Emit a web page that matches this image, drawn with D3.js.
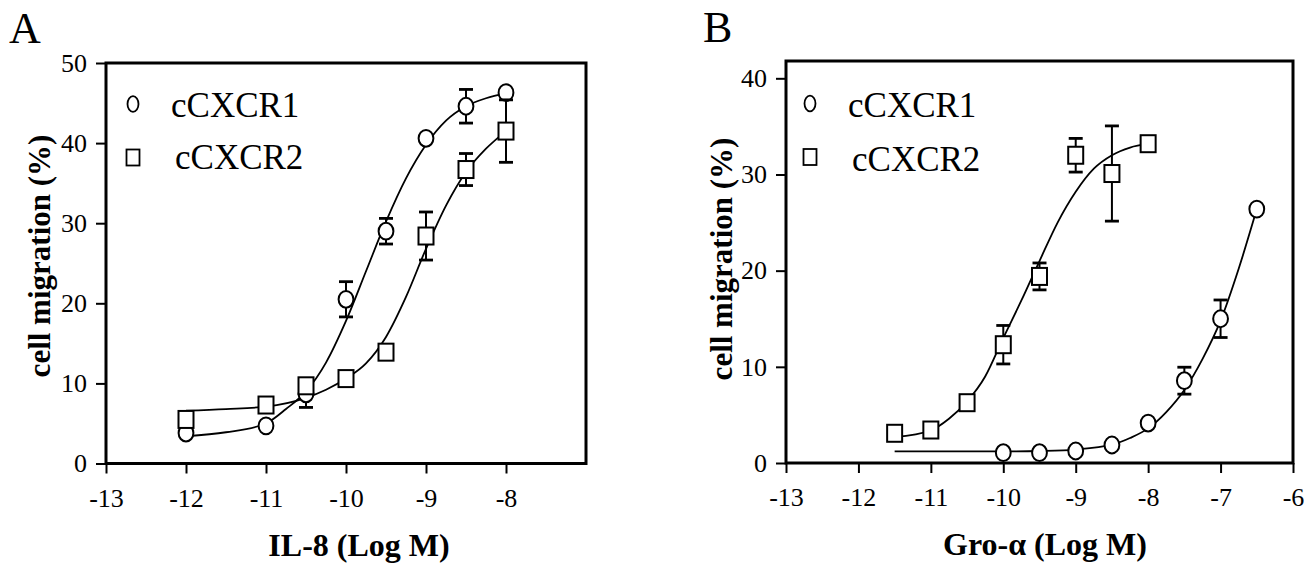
<!DOCTYPE html>
<html><head><meta charset="utf-8">
<script src="https://cdnjs.cloudflare.com/ajax/libs/d3/7.8.5/d3.min.js"></script>
<style>
html,body{margin:0;padding:0;background:#fff;}
svg{display:block;}
text{font-family:"Liberation Serif","Times New Roman",serif;fill:#000;}
</style></head>
<body>
<script>
// ---------- data ----------
const xTicksA = [-13,-12,-11,-10,-9,-8];
const yTicksA = [0,10,20,30,40,50];
const xTicksB = [-13,-12,-11,-10,-9,-8,-7,-6];
const yTicksB = [0,10,20,30,40];

const seriesNames = ["cCXCR1","cCXCR2"];

// Panel A: IL-8
const doseA = [-12,-11,-10.5,-10,-9.5,-9,-8.5,-8];
const A_c1 = [3.8,4.7,8.7,20.5,29.0,40.6,44.6,46.3];
const A_c1_err = [0,0,1.7,2.2,1.6,0,2.1,0];
const A_c2 = [5.5,7.3,9.7,10.6,13.9,28.4,36.7,41.5];
const A_c2_err = [0,0,0,0,0,3.0,2.0,3.9];
// fitted curves
const A_fit1_x = [-12,-11.5,-11,-10.75,-10.5,-10.25,-10,-9.75,-9.5,-9.25,-9,-8.75,-8.5,-8.25,-8];
const A_fit1_y = [3.4,3.9,5.0,6.8,9.0,12.6,17.8,24.0,30.2,35.6,39.8,42.8,44.6,45.6,46.2];
const A_fit2_x = [-12,-11.5,-11,-10.5,-10.25,-10,-9.75,-9.5,-9.25,-9,-8.75,-8.5,-8.25,-8];
const A_fit2_y = [6.6,6.8,7.1,8.2,9.2,10.6,12.5,15.8,20.8,26.8,32.2,36.4,39.3,41.5];

// Panel B: Gro-alpha
const doseB1 = [-10,-9.5,-9,-8.5,-8,-7.5,-7,-6.5];
const B_c1 = [1.07,1.07,1.25,1.87,4.15,8.56,15.0,26.4];
const B_c1_err = [0,0,0,0,0,1.4,1.95,0];
const doseB2 = [-11.5,-11,-10.5,-10,-9.5,-9,-8.5,-8];
const B_c2 = [3.09,3.43,6.27,12.3,19.4,32.0,30.1,33.2];
const B_c2_err = [0,0,0,2.0,1.4,1.75,4.95,0];
const B_fit1_x = [-11.5,-11,-10.5,-10,-9.5,-9,-8.5,-8.25,-8,-7.75,-7.5,-7.25,-7,-6.75,-6.5];
const B_fit1_y = [1.2,1.2,1.2,1.2,1.25,1.4,1.9,2.6,3.6,5.3,7.6,10.8,14.8,20.2,26.4];
const B_fit2_x = [-11.5,-11,-10.75,-10.5,-10.25,-10,-9.75,-9.5,-9.25,-9,-8.75,-8.5,-8.25,-8];
const B_fit2_y = [2.7,3.4,4.6,6.4,9.0,13.0,16.9,21.0,25.0,28.2,30.6,32.0,32.8,33.2];

// ---------- drawing ----------
const W = 1304, H = 567;
const svg = d3.select("body").append("svg").attr("width",W).attr("height",H);

function panel(cfg){
  const g = svg.append("g");
  const x = d3.scaleLinear().domain(cfg.xDomain).range([cfg.left, cfg.right]);
  const y = d3.scaleLinear().domain(cfg.yDomain).range([cfg.bottom, cfg.top]);

  // box
  g.append("rect").attr("x",cfg.left).attr("y",cfg.top)
    .attr("width",cfg.right-cfg.left).attr("height",cfg.bottom-cfg.top)
    .attr("fill","none").attr("stroke","#000").attr("stroke-width",3);

  // axes
  const xa = g.append("g").attr("transform",`translate(0,${cfg.bottom})`)
    .call(d3.axisBottom(x).tickValues(cfg.xTicks).tickSize(10).tickPadding(15).tickFormat(d3.format("d")));
  const ya = g.append("g").attr("transform",`translate(${cfg.left},0)`)
    .call(d3.axisLeft(y).tickValues(cfg.yTicks).tickSize(10).tickPadding(9).tickFormat(d3.format("d")));
  [xa,ya].forEach(a=>{
    a.select(".domain").remove();
    a.selectAll(".tick line").attr("stroke","#000").attr("stroke-width",2);
    a.selectAll(".tick text").style("font-family","'Liberation Serif'").style("font-size","26px").attr("fill","#000");
  });
  xa.selectAll(".tick text").text(d => d < 0 ? "-" + Math.abs(d) : d);

  // fit curves
  const line = d3.line().x(d=>x(d[0])).y(d=>y(d[1])).curve(d3.curveMonotoneX);
  cfg.fits.forEach(f=>{
    g.append("path").datum(d3.zip(f[0],f[1])).attr("d",line)
      .attr("fill","none").attr("stroke","#000").attr("stroke-width",1.8);
  });

  // error bars and markers
  cfg.series.forEach(s=>{
    const pts = s.dose.map((d,i)=>({x:d,v:s.vals[i],e:s.err[i]}));
    const eb = g.append("g");
    pts.filter(p=>p.e>0).forEach(p=>{
      eb.append("line").attr("x1",x(p.x)).attr("x2",x(p.x))
        .attr("y1",y(p.v-p.e)).attr("y2",y(p.v+p.e)).attr("stroke","#000").attr("stroke-width",2);
      [p.v-p.e,p.v+p.e].forEach(v=>{
        eb.append("line").attr("x1",x(p.x)-7).attr("x2",x(p.x)+7)
          .attr("y1",y(v)).attr("y2",y(v)).attr("stroke","#000").attr("stroke-width",2.8);
      });
    });
    pts.forEach(p=>{
      if(s.shape==="circle"){
        g.append("ellipse").attr("cx",x(p.x)).attr("cy",y(p.v)).attr("rx",7.4).attr("ry",8.4)
          .attr("fill","#fff").attr("stroke","#000").attr("stroke-width",2);
      } else {
        g.append("rect").attr("x",x(p.x)-7.5).attr("y",y(p.v)-8.5).attr("width",15).attr("height",17)
          .attr("fill","#fff").attr("stroke","#000").attr("stroke-width",2);
      }
    });
  });

  // legend
  cfg.legend.forEach((l,i)=>{
    if(i===0){
      g.append("ellipse").attr("cx",l.mx).attr("cy",l.my).attr("rx",5.5).attr("ry",7.8)
        .attr("fill","#fff").attr("stroke","#000").attr("stroke-width",1.8);
    } else {
      g.append("rect").attr("x",l.mx-6.5).attr("y",l.my-8).attr("width",13).attr("height",16)
        .attr("fill","#fff").attr("stroke","#000").attr("stroke-width",1.8);
    }
    g.append("text").attr("x",l.tx).attr("y",l.ty).attr("font-size",35).text(seriesNames[i]);
  });

  // panel letter
  g.append("text").attr("x",cfg.letterX).attr("y",cfg.letterY).attr("font-size",44).text(cfg.letter);
  // axis titles
  g.append("text").attr("x",cfg.xTitleX).attr("y",cfg.xTitleY).attr("text-anchor","middle")
    .attr("font-size",32).attr("font-weight","bold").text(cfg.xTitle);
  g.append("text").attr("transform",`translate(${cfg.yTitleX},${cfg.yTitleY}) rotate(-90)`)
    .attr("text-anchor","middle").attr("font-size",31).attr("font-weight","bold").text("cell migration (%)");
}

panel({
  left:106, right:586, top:63, bottom:463.5,
  xDomain:[-13,-7], yDomain:[0,50],
  xTicks:xTicksA, yTicks:yTicksA,
  fits:[[A_fit1_x,A_fit1_y],[A_fit2_x,A_fit2_y]],
  series:[
    {dose:doseA, vals:A_c1, err:A_c1_err, shape:"circle"},
    {dose:doseA, vals:A_c2, err:A_c2_err, shape:"square"}
  ],
  legend:[{mx:133,my:104,tx:171,ty:117},{mx:133,my:157.5,tx:175,ty:169}],
  letter:"A", letterX:9, letterY:43,
  xTitle:"IL-8 (Log M)", xTitleX:359, xTitleY:556,
  yTitleX:50, yTitleY:256
});

panel({
  left:786, right:1293, top:61, bottom:463,
  xDomain:[-13,-6], yDomain:[0,41.8],
  xTicks:xTicksB, yTicks:yTicksB,
  fits:[[B_fit1_x,B_fit1_y],[B_fit2_x,B_fit2_y]],
  series:[
    {dose:doseB1, vals:B_c1, err:B_c1_err, shape:"circle"},
    {dose:doseB2, vals:B_c2, err:B_c2_err, shape:"square"}
  ],
  legend:[{mx:810,my:103.5,tx:848,ty:117},{mx:810,my:157,tx:852,ty:170.5}],
  letter:"B", letterX:703, letterY:42,
  xTitle:"Gro-\u03b1 (Log M)", xTitleX:1045, xTitleY:555,
  yTitleX:732, yTitleY:259
});
</script>
</body></html>
